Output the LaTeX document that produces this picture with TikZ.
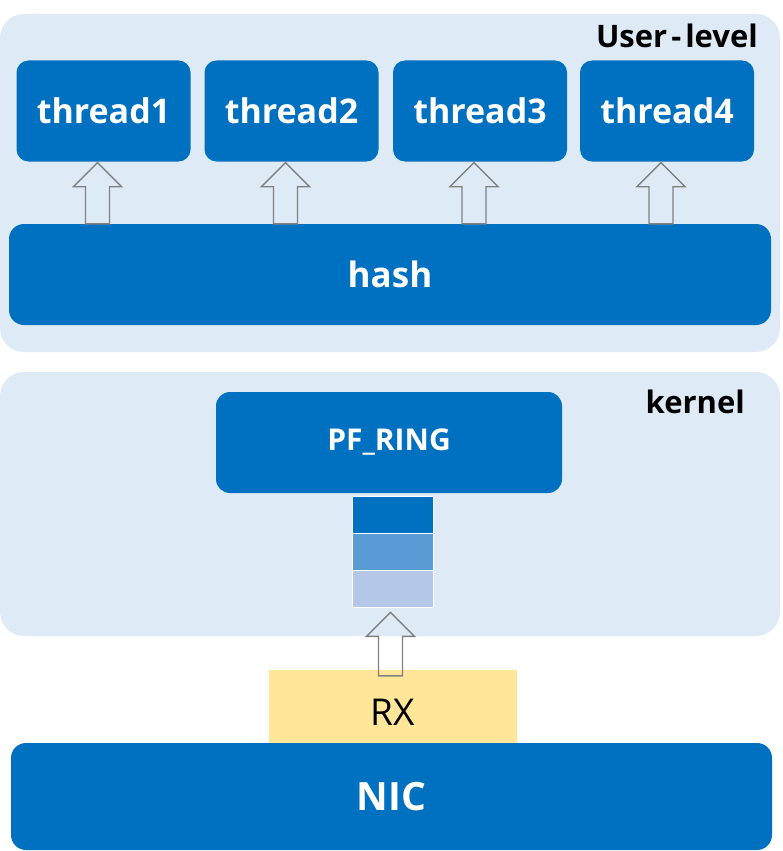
\documentclass[tikz,border=0pt]{standalone}
\usepackage{fontspec}
\setmainfont{Open Sans}
\usepackage{tikz}
\usetikzlibrary{calc}
\definecolor{nicblue}{HTML}{0070C0}
\definecolor{midblue}{HTML}{5B9BD5}
\definecolor{paleblue}{HTML}{B4C7E7}
\definecolor{panelblue}{HTML}{DEEBF7}
\definecolor{rxyellow}{HTML}{FFE699}
\def\shaftw{12}
\def\headw{24}
\def\headh{24}

\begin{document}
\begin{tikzpicture}[x=1pt,y=-1pt]
		\tikzstyle{panel}=[fill=panelblue,rounded corners=24pt,inner sep=0pt]
		\tikzstyle{block}=[fill=nicblue,text=white,rounded corners=14pt,inner sep=0pt,font=\bfseries]
		\tikzstyle{thread block}=[block,minimum width=174pt,minimum height=101pt,rounded corners=12pt,font=\bfseries\fontsize{34}{34}\selectfont]
		\tikzstyle{queue}=[fill=#1,draw=white,line width=0.6pt,minimum width=81pt,minimum height=37pt,inner sep=0pt]
		\tikzstyle{hollow arrow}=[draw=black!50,line width=1.4pt,line join=miter]
		\tikzstyle{annot}=[font=\bfseries\fontsize{31}{31}\selectfont,inner sep=0pt]
		
		\useasboundingbox (0,0) rectangle (782,851);
		
		% Draw the two panels
		\node[panel,minimum width=780pt,minimum height=338pt] (user) at (390,183) {};
		\node[panel,minimum width=780pt,minimum height=264pt] (kern) at (390,504) {};
		\node[annot,anchor=east] (user-lbl) at (758,36) {User\kern4pt-\kern4pt level};
		\node[annot,anchor=east] (kern-lbl) at (745,402) {kernel};
		
		% Draw the thread nodes
		\foreach \i/\x in {1/103.5,2/291.5,3/480,4/667}
		\node[thread block] (T-\i) at (\x,111) {thread\i};
		
		% Draw the hash node
		\node[block,minimum width=762pt,minimum height=101pt,rounded corners=15pt,font=\bfseries\fontsize{35}{35}\selectfont] (hash) at (390,274.5) {hash};
		
		% Connect the hash node with every thread node
		\foreach \i in {1,...,4}{
			\coordinate (A-\i) at ($(T-\i.south)+(-6,1)$);
			\coordinate (B-\i) at (A-\i |- hash.north);
			\draw[hollow arrow] (A-\i) -- ++(\headw,\headh) -- ++(-\headw+\shaftw,0)
				-- ($(B-\i)+(\shaftw,0)$) -- ($(B-\i)+(-\shaftw,0)$)
				-- ($(A-\i)+(-\shaftw,\headh)$) -- ++(-\headw+\shaftw,0) -- cycle;
		}
		
		% Draw the PF_RING node and its queue
		\node[block,minimum width=346pt,minimum height=101pt,font=\bfseries\fontsize{30}{30}\selectfont] (ring) at (389,442.5) {PF\_RING};
		\foreach \i/\c in {1/nicblue,2/midblue,3/paleblue}
		\node[queue=\c] (S-\i) at (392.5,477.5+37*\i) {};
		
		% Draw the RX and NIC nodes
		\node[fill=rxyellow,minimum width=248pt,minimum height=73pt,inner sep=0pt,text height=37pt,text depth=0pt,font=\fontsize{37}{37}\selectfont] (rx) at (393,706.5) {RX};
		\node[block,minimum width=761pt,minimum height=107pt,rounded corners=15pt,font=\bfseries\fontsize{39}{39}\selectfont] (nic) at (391.5,796.5) {NIC};
		
		% Connect the RX node with the queue
		\coordinate (A-rx) at ($(S-3.south)+(-2,5)$);
		\coordinate (B-rx) at ($(A-rx |- rx.north)+(0,6)$);
		\draw[hollow arrow] (A-rx) -- ++(\headw,\headh) -- ++(-\headw+\shaftw,0)
			-- ($(B-rx)+(\shaftw,0)$) -- ($(B-rx)+(-\shaftw,0)$)
			-- ($(A-rx)+(-\shaftw,\headh)$) -- ++(-\headw+\shaftw,0) -- cycle;
	\end{tikzpicture}
\end{document}
